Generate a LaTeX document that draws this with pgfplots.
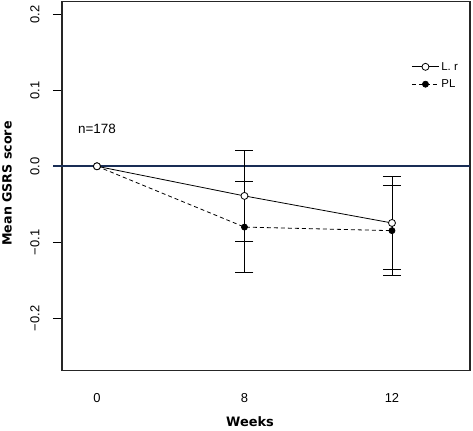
\documentclass[border=0pt]{standalone}
\usepackage{fontspec}
\setmainfont{Liberation Sans}
\newfontfamily\labfont{DejaVu Sans}
\usepackage{pgfplots}
\pgfplotsset{compat=1.18}
\definecolor{navy}{RGB}{25,45,85}
\pgfplotstableread{
x y e
1 -0.039 0.0595
2 -0.0746 0.061
}\lrerr
\pgfplotstableread{
x y e
1 -0.080 0.060
2 -0.0847 0.0595
}\plerr
\begin{document}
\begin{tikzpicture}
\begin{axis}[
  scale only axis, width=408bp, height=369bp,
  xmin=-0.237, xmax=2.529, ymin=-0.2687, ymax=0.2168,
  xtick={0,1,2}, xticklabels={0,8,12},
  ytick={-0.2,-0.1,0,0.1,0.2},
  yticklabels={−0.2,−0.1,0.0,0.1,0.2},
  axis line style={line width=1.1bp, draw=black!85},
  ytick pos=left, xtick pos=bottom,
  tick align=outside, major tick length=9bp,
  ytick style={black, line width=0.9bp},
  xtick style={draw=none},
  yticklabel style={rotate=90, anchor=center, yshift=18bp, font=\fontsize{13}{15}\selectfont},
  xticklabel style={anchor=center, yshift=-18.5bp, font=\fontsize{13}{15}\selectfont},
  xlabel={Weeks}, ylabel={Mean GSRS score},
  xlabel style={at={(rel axis cs:0.461,0)}, anchor=center, yshift=-51.5bp, font=\labfont\bfseries\fontsize{13}{15}\selectfont},
  ylabel style={at={(rel axis cs:0,0.507)}, anchor=center, yshift=55bp, font=\labfont\bfseries\fontsize{12.7}{15}\selectfont},
  clip=false,
  legend style={draw=none, fill=none, at={(rel axis cs:0.849,0.847)}, anchor=north west, font=\fontsize{11.5}{13}\selectfont, row sep=4bp, /tikz/every even column/.append style={column sep=11bp}},
  legend cell align=left,
  legend image code/.code={\draw[mark repeat=2,mark phase=2,#1] plot coordinates {(0bp,0bp) (13.5bp,0bp) (27bp,0bp)};},
]
\coordinate (sw) at (rel axis cs:0,0);
\coordinate (ne) at (rel axis cs:1,1);
\addplot[navy, line width=2.2bp, forget plot] coordinates {(-0.298,0) (2.529,0)};
\addplot[draw=none, mark=none, forget plot, error bars/.cd, y dir=both, y explicit, error bar style={black, line width=0.8bp}, error mark options={rotate=90, mark size=9bp, line width=0.8bp}] table[x=x,y=y,y error=e] {\lrerr};
\addplot[draw=none, mark=none, forget plot, error bars/.cd, y dir=both, y explicit, error bar style={black, line width=0.8bp}, error mark options={rotate=90, mark size=9bp, line width=0.8bp}] table[x=x,y=y,y error=e] {\plerr};
\addplot[black, line width=0.8bp, mark=*, mark size=3.5bp, mark options={solid, fill=white, draw=black, line width=0.8bp}] coordinates {(0,0) (1,-0.039) (2,-0.0746)};
\addlegendentry{L. r}
\addplot[black, line width=0.8bp, dash pattern=on 4bp off 3bp, mark=*, mark size=3bp, mark options={solid}] coordinates {(0,0) (1,-0.080) (2,-0.0847)};
\addlegendentry{PL}
\addplot[black, line width=0.8bp, mark=*, mark size=3.5bp, mark options={solid, fill=white, draw=black, line width=0.8bp}, forget plot, only marks] coordinates {(0,0)};
\node[font=\fontsize{13.5}{15}\selectfont] at (axis cs:0,0.0487) {n=178};
\end{axis}
\pgfresetboundingbox
\useasboundingbox ([shift={(-62bp,-60.5bp)}]sw) rectangle ([shift={(3bp,1.5bp)}]ne);
\end{tikzpicture}
\end{document}
